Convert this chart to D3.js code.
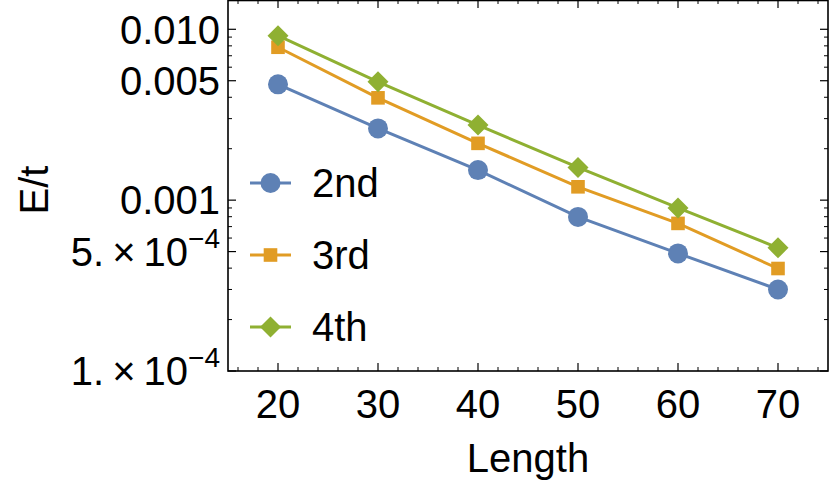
<!DOCTYPE html>
<html><head><meta charset="utf-8">
<script src="https://cdn.jsdelivr.net/npm/d3@7"></script>
<style>
body{margin:0;background:#fff;}
svg text{font-family:"Liberation Sans",Arial,sans-serif;fill:#000;}
</style></head>
<body><svg id="c" width="830" height="487"></svg>
<script>
const lengths = [20, 30, 40, 50, 60, 70];
const series2nd = [0.00476, 0.00263, 0.00150, 0.000798, 0.000488, 0.000300];
const series3rd = [0.00785, 0.00397, 0.00215, 0.001197, 0.000731, 0.000398];
const series4th = [0.00917, 0.00493, 0.00275, 0.001555, 0.000901, 0.000526];
const seriesNames = ["2nd", "3rd", "4th"];
const seriesColors = ["#5E81B5", "#E19C24", "#8FB032"];
const seriesShapes = ["circle", "square", "diamond"];
const xTicks = [20, 30, 40, 50, 60, 70];
const yMajorTicks = [1e-4, 5e-4, 1e-3, 5e-3, 1e-2];
const yTickLabels = [["1.", "\u22124"], ["5.", "\u22124"], ["0.001"], ["0.005"], ["0.010"]];
const xLabel = "Length";
const yLabel = "E/t";

const allSeries = [series2nd, series3rd, series4th];
const svg = d3.select("#c");
const L = 228, R = 828, T = 0, B = 371;
const x = d3.scaleLinear().domain([15, 75]).range([L, R]);
const y = d3.scaleLog().domain([1e-4, 0.01484]).range([B, T]);

const xMinor = d3.range(16, 75, 2).filter(v => v % 10 !== 0);
const yMinor = [];
[1e-4, 1e-3, 1e-2].forEach(d => [2,3,4,6,7,8,9].forEach(m => { const v = m*d; if (v < 0.01484) yMinor.push(v); }));

const g = svg.append("g");
xTicks.forEach(v => {
  g.append("line").attr("x1", x(v)).attr("x2", x(v)).attr("y1", B).attr("y2", B-8).attr("stroke","#000").attr("stroke-width",1.2);
  g.append("line").attr("x1", x(v)).attr("x2", x(v)).attr("y1", T).attr("y2", T+8).attr("stroke","#000").attr("stroke-width",1.2);
});
xMinor.forEach(v => {
  g.append("line").attr("x1", x(v)).attr("x2", x(v)).attr("y1", B).attr("y2", B-4).attr("stroke","#000").attr("stroke-width",1);
  g.append("line").attr("x1", x(v)).attr("x2", x(v)).attr("y1", T).attr("y2", T+4).attr("stroke","#000").attr("stroke-width",1);
});
yMajorTicks.forEach(v => {
  g.append("line").attr("x1", L).attr("x2", L+8).attr("y1", y(v)).attr("y2", y(v)).attr("stroke","#000").attr("stroke-width",1.2);
  g.append("line").attr("x1", R).attr("x2", R-8).attr("y1", y(v)).attr("y2", y(v)).attr("stroke","#000").attr("stroke-width",1.2);
});
yMinor.forEach(v => {
  g.append("line").attr("x1", L).attr("x2", L+4).attr("y1", y(v)).attr("y2", y(v)).attr("stroke","#000").attr("stroke-width",1);
  g.append("line").attr("x1", R).attr("x2", R-4).attr("y1", y(v)).attr("y2", y(v)).attr("stroke","#000").attr("stroke-width",1);
});
g.append("rect").attr("x", L).attr("y", T+0.5).attr("width", R-L).attr("height", B-T-0.5)
  .attr("fill","none").attr("stroke","#000").attr("stroke-width",1.6);

xTicks.forEach(v => {
  svg.append("text").attr("x", x(v)).attr("y", 418).attr("text-anchor","middle").attr("font-size",40).text(v);
});
yMajorTicks.forEach((v,i) => {
  const lab = yTickLabels[i];
  const t = svg.append("text").attr("x", 220).attr("y", y(v)+14.3).attr("text-anchor","end").attr("font-size",40);
  if (lab.length === 1) t.text(lab[0]);
  else {
    t.append("tspan").text(lab[0] + "\u2009\u00d7\u200910");
    t.append("tspan").attr("dy", -18).attr("font-size",28).text(lab[1]);
  }
});
svg.append("text").attr("x", (L+R)/2).attr("y", 472).attr("text-anchor","middle").attr("font-size",40).text(xLabel);
svg.append("text").attr("transform","translate(48,190) rotate(-90)").attr("text-anchor","middle").attr("font-size",40).text(yLabel);

function drawMarker(sel, shape, cx, cy, color) {
  if (shape === "circle") sel.append("circle").attr("cx",cx).attr("cy",cy).attr("r",10).attr("fill",color);
  else if (shape === "square") sel.append("rect").attr("x",cx-6.8).attr("y",cy-6.8).attr("width",13.6).attr("height",13.6).attr("fill",color);
  else sel.append("path").attr("d",`M${cx},${cy-10.5}L${cx+10.5},${cy}L${cx},${cy+10.5}L${cx-10.5},${cy}Z`).attr("fill",color);
}

const line = d3.line().x((d,i) => x(lengths[i])).y(d => y(d));
allSeries.forEach((s, k) => {
  svg.append("path").attr("d", line(s)).attr("fill","none").attr("stroke", seriesColors[k]).attr("stroke-width",3);
});
allSeries.forEach((s, k) => {
  s.forEach((v,i) => drawMarker(svg, seriesShapes[k], x(lengths[i]), y(v), seriesColors[k]));
});

const legendY = [183, 255, 327];
seriesNames.forEach((n, k) => {
  const ly = legendY[k];
  svg.append("line").attr("x1",250).attr("x2",291).attr("y1",ly).attr("y2",ly).attr("stroke",seriesColors[k]).attr("stroke-width",3);
  drawMarker(svg, seriesShapes[k], 270.5, ly, seriesColors[k]);
  svg.append("text").attr("x",312).attr("y",ly+14).attr("font-size",40).text(n);
});
</script></body></html>
